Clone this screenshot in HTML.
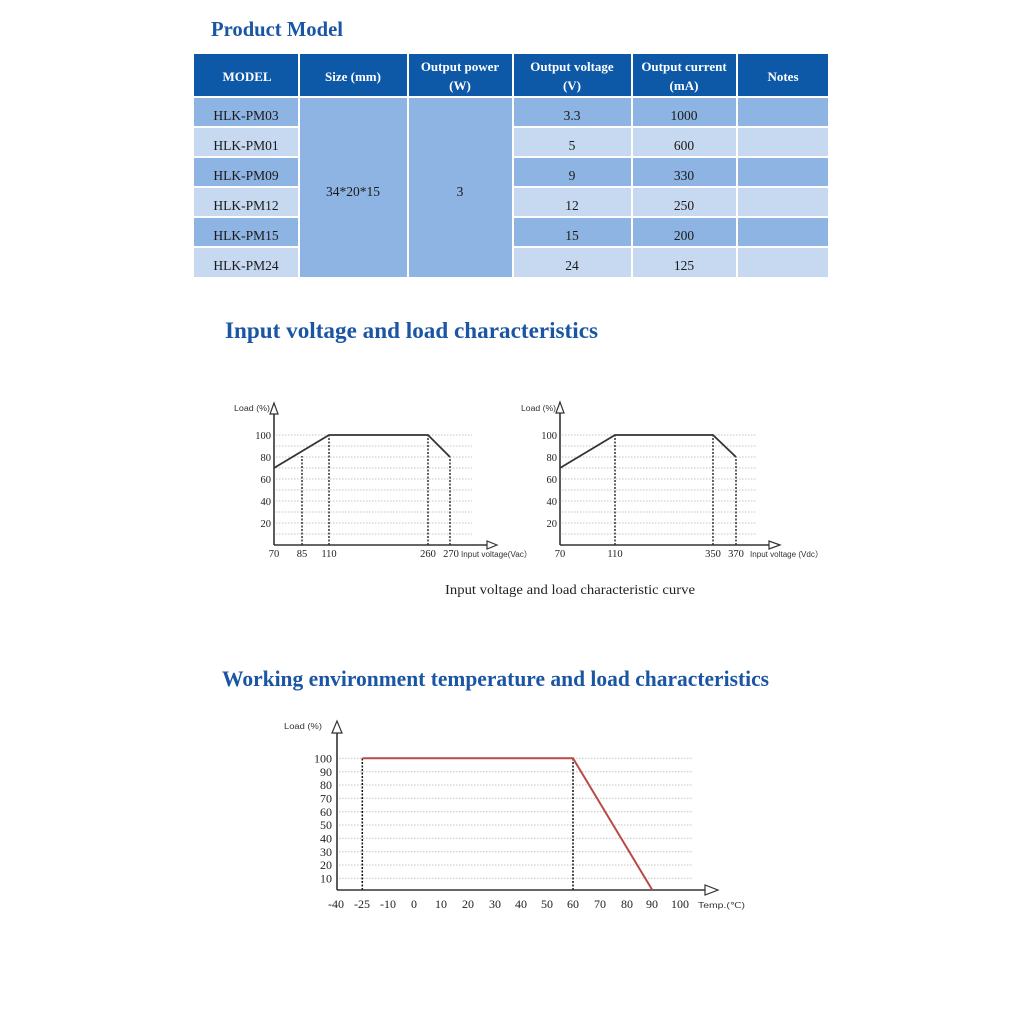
<!DOCTYPE html>
<html>
<head>
<meta charset="utf-8">
<style>
html,body{margin:0;padding:0;background:#fff;}
svg{display:block;}
.ti{font-family:"Liberation Serif",serif;font-weight:bold;fill:#1b56a4;}
.hd{font-family:"Liberation Serif",serif;font-weight:bold;fill:#fff;font-size:13px;}
.bd{font-family:"Liberation Serif",serif;fill:#1a1a1a;font-size:13.5px;}
.ax{font-family:"Liberation Serif",serif;fill:#222;}
.sm{font-family:"Liberation Sans",sans-serif;fill:#333;font-size:8px;}
</style>
</head>
<body>
<svg width="1024" height="1024" viewBox="0 0 1024 1024" xmlns="http://www.w3.org/2000/svg">
<rect width="1024" height="1024" fill="#fff"/>

<!-- Title -->
<text class="ti" x="211" y="36" font-size="21" textLength="132" lengthAdjust="spacingAndGlyphs">Product Model</text>

<!-- Table header -->
<g fill="#0e58a8">
<rect x="194" y="54" width="104" height="42"/>
<rect x="300" y="54" width="107" height="42"/>
<rect x="409" y="54" width="103" height="42"/>
<rect x="514" y="54" width="117" height="42"/>
<rect x="633" y="54" width="103" height="42"/>
<rect x="738" y="54" width="90" height="42"/>
</g>
<!-- Body rows -->
<g>
<rect x="194" y="98" width="104" height="28" fill="#8db4e2"/>
<rect x="194" y="128" width="104" height="28" fill="#c6d9f1"/>
<rect x="194" y="158" width="104" height="28" fill="#8db4e2"/>
<rect x="194" y="188" width="104" height="28" fill="#c6d9f1"/>
<rect x="194" y="218" width="104" height="28" fill="#8db4e2"/>
<rect x="194" y="248" width="104" height="29" fill="#c6d9f1"/>

<rect x="300" y="98" width="107" height="179" fill="#8db4e2"/>
<rect x="409" y="98" width="103" height="179" fill="#8db4e2"/>

<rect x="514" y="98" width="117" height="28" fill="#8db4e2"/>
<rect x="514" y="128" width="117" height="28" fill="#c6d9f1"/>
<rect x="514" y="158" width="117" height="28" fill="#8db4e2"/>
<rect x="514" y="188" width="117" height="28" fill="#c6d9f1"/>
<rect x="514" y="218" width="117" height="28" fill="#8db4e2"/>
<rect x="514" y="248" width="117" height="29" fill="#c6d9f1"/>

<rect x="633" y="98" width="103" height="28" fill="#8db4e2"/>
<rect x="633" y="128" width="103" height="28" fill="#c6d9f1"/>
<rect x="633" y="158" width="103" height="28" fill="#8db4e2"/>
<rect x="633" y="188" width="103" height="28" fill="#c6d9f1"/>
<rect x="633" y="218" width="103" height="28" fill="#8db4e2"/>
<rect x="633" y="248" width="103" height="29" fill="#c6d9f1"/>

<rect x="738" y="98" width="90" height="28" fill="#8db4e2"/>
<rect x="738" y="128" width="90" height="28" fill="#c6d9f1"/>
<rect x="738" y="158" width="90" height="28" fill="#8db4e2"/>
<rect x="738" y="188" width="90" height="28" fill="#c6d9f1"/>
<rect x="738" y="218" width="90" height="28" fill="#8db4e2"/>
<rect x="738" y="248" width="90" height="29" fill="#c6d9f1"/>
</g>

<!-- header text -->
<g text-anchor="middle">
<text class="hd" x="247" y="81">MODEL</text>
<text class="hd" x="353" y="81">Size (mm)</text>
<text class="hd" x="460" y="71">Output power</text>
<text class="hd" x="460" y="90">(W)</text>
<text class="hd" x="572" y="71">Output voltage</text>
<text class="hd" x="572" y="90">(V)</text>
<text class="hd" x="684" y="71">Output current</text>
<text class="hd" x="684" y="90">(mA)</text>
<text class="hd" x="783" y="81">Notes</text>
</g>
<!-- body text -->
<g text-anchor="middle">
<text class="bd" x="246" y="120">HLK-PM03</text>
<text class="bd" x="246" y="150">HLK-PM01</text>
<text class="bd" x="246" y="180">HLK-PM09</text>
<text class="bd" x="246" y="210">HLK-PM12</text>
<text class="bd" x="246" y="240">HLK-PM15</text>
<text class="bd" x="246" y="270">HLK-PM24</text>
<text class="bd" x="353" y="196">34*20*15</text>
<text class="bd" x="460" y="196">3</text>
<text class="bd" x="572" y="120">3.3</text>
<text class="bd" x="572" y="150">5</text>
<text class="bd" x="572" y="180">9</text>
<text class="bd" x="572" y="210">12</text>
<text class="bd" x="572" y="240">15</text>
<text class="bd" x="572" y="270">24</text>
<text class="bd" x="684" y="120">1000</text>
<text class="bd" x="684" y="150">600</text>
<text class="bd" x="684" y="180">330</text>
<text class="bd" x="684" y="210">250</text>
<text class="bd" x="684" y="240">200</text>
<text class="bd" x="684" y="270">125</text>
</g>

<!-- Section 2 title -->
<text class="ti" x="225" y="338" font-size="23" textLength="373" lengthAdjust="spacingAndGlyphs">Input voltage and load characteristics</text>

<!-- Chart 1 (Vac) -->
<g stroke="#c4c4c4" stroke-width="1" stroke-dasharray="1.5,1.5">
<line x1="276" y1="534" x2="472" y2="534"/>
<line x1="276" y1="523" x2="472" y2="523"/>
<line x1="276" y1="512" x2="472" y2="512"/>
<line x1="276" y1="501" x2="472" y2="501"/>
<line x1="276" y1="490" x2="472" y2="490"/>
<line x1="276" y1="479" x2="472" y2="479"/>
<line x1="276" y1="468" x2="472" y2="468"/>
<line x1="276" y1="457" x2="472" y2="457"/>
<line x1="276" y1="446" x2="472" y2="446"/>
<line x1="276" y1="435" x2="472" y2="435"/>
</g>
<g stroke="#222" stroke-width="1.4" stroke-dasharray="2,1.5">
<line x1="302" y1="545" x2="302" y2="456"/>
<line x1="329" y1="545" x2="329" y2="435"/>
<line x1="428" y1="545" x2="428" y2="435"/>
<line x1="450" y1="545" x2="450" y2="457"/>
</g>
<g stroke="#333" stroke-width="1.6" fill="none">
<line x1="274" y1="545" x2="274" y2="414"/>
<polygon points="274,403 270,414 278,414" fill="#fff" stroke-width="1.2"/>
<line x1="274" y1="545" x2="487" y2="545"/>
<polygon points="497,545 487,541 487,549" fill="#fff" stroke-width="1.2"/>
<polyline points="274,468 329,435 428,435 450,457" stroke-width="1.8"/>
</g>
<text class="sm" x="234" y="411" textLength="36" lengthAdjust="spacingAndGlyphs">Load (%)</text>
<g class="ax" font-size="10.5" text-anchor="end">
<text x="271" y="439">100</text>
<text x="271" y="461">80</text>
<text x="271" y="483">60</text>
<text x="271" y="505">40</text>
<text x="271" y="527">20</text>
</g>
<g class="ax" font-size="10.5" text-anchor="middle">
<text x="274" y="557">70</text>
<text x="302" y="557">85</text>
<text x="329" y="557">110</text>
<text x="428" y="557">260</text>
<text x="451" y="557">270</text>
</g>
<text class="sm" x="461" y="557" textLength="71" lengthAdjust="spacingAndGlyphs">Input voltage(Vac）</text>

<!-- Chart 2 (Vdc) -->
<g stroke="#c4c4c4" stroke-width="1" stroke-dasharray="1.5,1.5">
<line x1="562" y1="534" x2="757" y2="534"/>
<line x1="562" y1="523" x2="757" y2="523"/>
<line x1="562" y1="512" x2="757" y2="512"/>
<line x1="562" y1="501" x2="757" y2="501"/>
<line x1="562" y1="490" x2="757" y2="490"/>
<line x1="562" y1="479" x2="757" y2="479"/>
<line x1="562" y1="468" x2="757" y2="468"/>
<line x1="562" y1="457" x2="757" y2="457"/>
<line x1="562" y1="446" x2="757" y2="446"/>
<line x1="562" y1="435" x2="757" y2="435"/>
</g>
<g stroke="#222" stroke-width="1.4" stroke-dasharray="2,1.5">
<line x1="615" y1="545" x2="615" y2="435"/>
<line x1="713" y1="545" x2="713" y2="435"/>
<line x1="736" y1="545" x2="736" y2="457"/>
</g>
<g stroke="#333" stroke-width="1.6" fill="none">
<line x1="560" y1="545" x2="560" y2="413"/>
<polygon points="560,402 556,413 564,413" fill="#fff" stroke-width="1.2"/>
<line x1="560" y1="545" x2="769" y2="545"/>
<polygon points="780,545 769,541 769,549" fill="#fff" stroke-width="1.2"/>
<polyline points="560,468 615,435 713,435 736,457" stroke-width="1.8"/>
</g>
<text class="sm" x="521" y="411" textLength="35" lengthAdjust="spacingAndGlyphs">Load (%)</text>
<g class="ax" font-size="10.5" text-anchor="end">
<text x="557" y="439">100</text>
<text x="557" y="461">80</text>
<text x="557" y="483">60</text>
<text x="557" y="505">40</text>
<text x="557" y="527">20</text>
</g>
<g class="ax" font-size="10.5" text-anchor="middle">
<text x="560" y="557">70</text>
<text x="615" y="557">110</text>
<text x="713" y="557">350</text>
<text x="736" y="557">370</text>
</g>
<text class="sm" x="750" y="557" textLength="73" lengthAdjust="spacingAndGlyphs">Input voltage (Vdc）</text>

<!-- caption -->
<text class="ax" x="445" y="594" font-size="13.5" textLength="250" lengthAdjust="spacingAndGlyphs">Input voltage and load characteristic curve</text>

<!-- Section 3 title -->
<text class="ti" x="222" y="686" font-size="22.5" textLength="547" lengthAdjust="spacingAndGlyphs">Working environment temperature and load characteristics</text>

<!-- Chart 3 (Temp) -->
<g stroke="#c4c4c4" stroke-width="1" stroke-dasharray="1.5,1.5">
<line x1="339" y1="878.3" x2="693" y2="878.3"/>
<line x1="339" y1="865" x2="693" y2="865"/>
<line x1="339" y1="851.7" x2="693" y2="851.7"/>
<line x1="339" y1="838.3" x2="693" y2="838.3"/>
<line x1="339" y1="825" x2="693" y2="825"/>
<line x1="339" y1="811.7" x2="693" y2="811.7"/>
<line x1="339" y1="798.3" x2="693" y2="798.3"/>
<line x1="339" y1="785" x2="693" y2="785"/>
<line x1="339" y1="771.7" x2="693" y2="771.7"/>
<line x1="339" y1="758.3" x2="693" y2="758.3"/>
</g>
<g stroke="#111" stroke-width="1.5" stroke-dasharray="2,1.5">
<line x1="362.3" y1="890" x2="362.3" y2="758"/>
<line x1="573" y1="890" x2="573" y2="758"/>
</g>
<g stroke="#333" stroke-width="1.6" fill="none">
<line x1="337" y1="890" x2="337" y2="733"/>
<polygon points="337,721 332,733 342,733" fill="#fff" stroke-width="1.2"/>
<line x1="337" y1="890" x2="705" y2="890"/>
<polygon points="718,890 705,885 705,895" fill="#fff" stroke-width="1.2"/>
</g>
<polyline points="362.3,758.3 573,758.3 652.3,890" fill="none" stroke="#b94a4a" stroke-width="2"/>
<text class="sm" x="284" y="729" font-size="8.5" textLength="38" lengthAdjust="spacingAndGlyphs">Load (%)</text>
<g class="ax" font-size="12" text-anchor="end">
<text x="332" y="762.5">100</text>
<text x="332" y="775.8">90</text>
<text x="332" y="789.2">80</text>
<text x="332" y="802.5">70</text>
<text x="332" y="815.8">60</text>
<text x="332" y="829.2">50</text>
<text x="332" y="842.5">40</text>
<text x="332" y="855.8">30</text>
<text x="332" y="869.2">20</text>
<text x="332" y="882.5">10</text>
</g>
<g class="ax" font-size="12" text-anchor="middle">
<text x="336" y="908">-40</text>
<text x="362" y="908">-25</text>
<text x="388" y="908">-10</text>
<text x="414" y="908">0</text>
<text x="441" y="908">10</text>
<text x="468" y="908">20</text>
<text x="495" y="908">30</text>
<text x="521" y="908">40</text>
<text x="547" y="908">50</text>
<text x="573" y="908">60</text>
<text x="600" y="908">70</text>
<text x="627" y="908">80</text>
<text x="652" y="908">90</text>
<text x="680" y="908">100</text>
</g>
<text class="sm" x="698" y="908" font-size="9" textLength="47" lengthAdjust="spacingAndGlyphs">Temp.(℃)</text>
</svg>
</body>
</html>
